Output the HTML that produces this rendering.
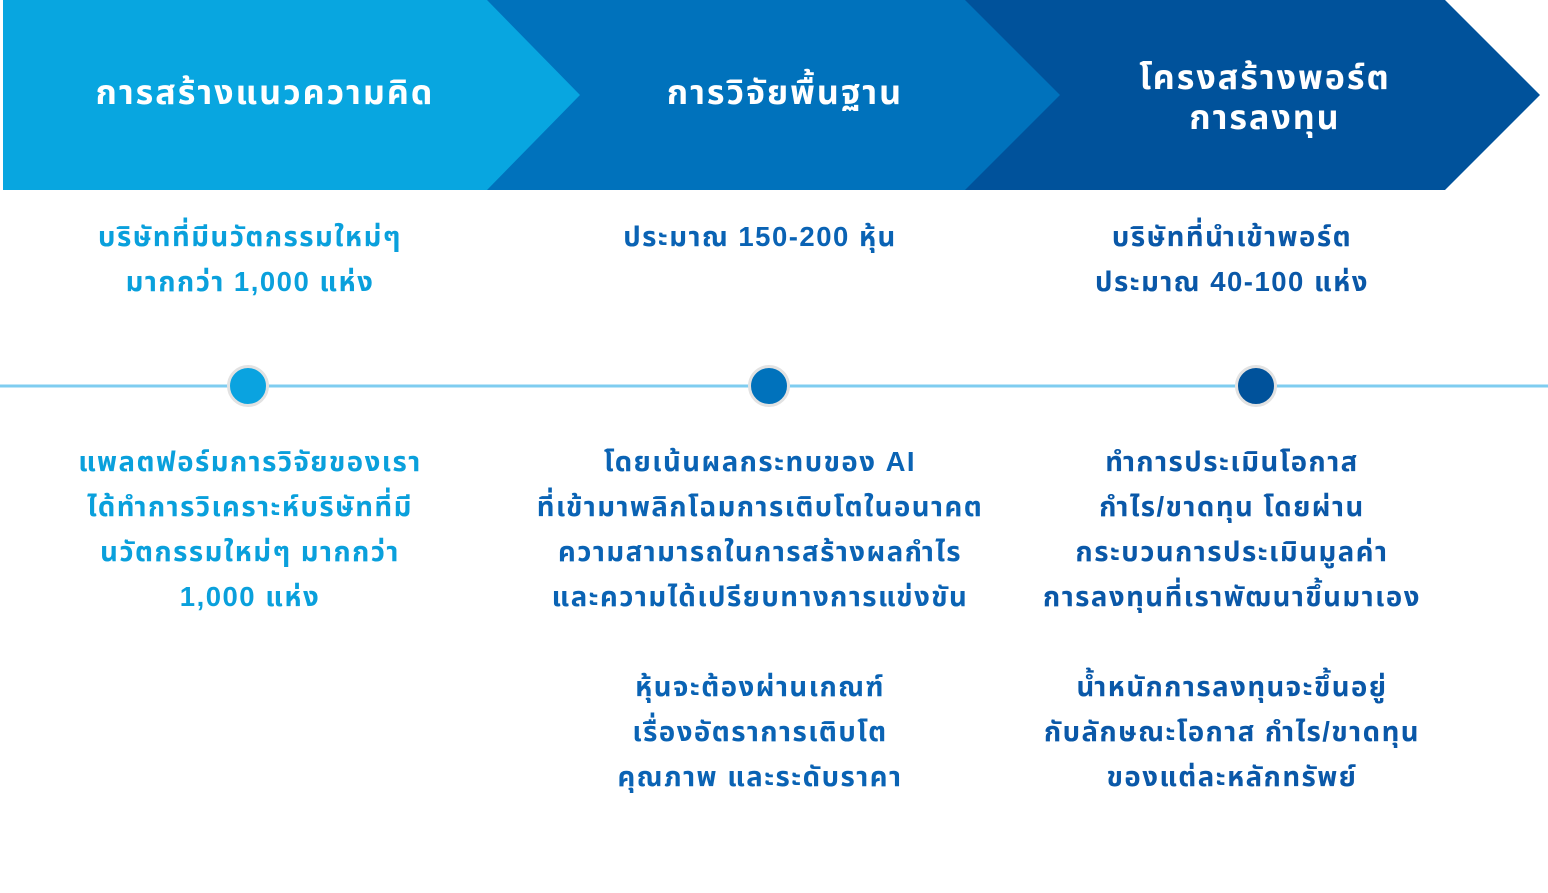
<!DOCTYPE html>
<html><head><meta charset="utf-8"><style>
html,body{margin:0;padding:0;background:#fff;width:1548px;height:893px;overflow:hidden;position:relative;font-family:"Liberation Sans","Noto Sans Thai","Loma","Garuda",sans-serif;font-weight:bold}
.t{position:absolute;text-align:center;font-size:27.5px;line-height:45px;white-space:nowrap;letter-spacing:1.5px}
.h{position:absolute;text-align:center;color:#fff;font-size:34px;line-height:40px;white-space:nowrap;letter-spacing:2px}
.c1{color:#0aa0dc}.c2{color:#0a63b4}.c3{color:#0a58a8}
.dot{position:absolute;width:36px;height:36px;border-radius:50%;border:3px solid #e2e2e2;top:365px}
</style></head><body>
<svg width="1548" height="893" style="position:absolute;left:0;top:0">
<polygon points="965,0 1445,0 1540,95 1445,190 965,190" fill="#00529b"/>
<polygon points="487,0 965,0 1060,95 965,190 487,190" fill="#0072bc"/>
<polygon points="3,0 487,0 580,95 487,190 3,190" fill="#08a6e0"/>
<line x1="0" y1="386" x2="1548" y2="386" stroke="#7fcdf0" stroke-width="3"/>
</svg>
<div class="h" style="left:50px;width:430px;top:73px">การสร้างแนวความคิด</div>
<div class="h" style="left:560px;width:450px;top:73px">การวิจัยพื้นฐาน</div>
<div class="h" style="left:1040px;width:450px;top:58px">โครงสร้างพอร์ต<br>การลงทุน</div>
<div class="dot" style="left:227px;background:#0aa3e0"></div>
<div class="dot" style="left:748px;background:#0072bc"></div>
<div class="dot" style="left:1235px;background:#00529b"></div>
<div class="t c1" style="left:0;width:500px;top:214px">บริษัทที่มีนวัตกรรมใหม่ๆ<br>มากกว่า 1,000 แห่ง</div>
<div class="t c2" style="left:510px;width:500px;top:214px">ประมาณ 150-200 หุ้น</div>
<div class="t c3" style="left:982px;width:500px;top:214px">บริษัทที่นำเข้าพอร์ต<br>ประมาณ 40-100 แห่ง</div>
<div class="t c1" style="left:0;width:500px;top:439px">แพลตฟอร์มการวิจัยของเรา<br>ได้ทำการวิเคราะห์บริษัทที่มี<br>นวัตกรรมใหม่ๆ มากกว่า<br>1,000 แห่ง</div>
<div class="t c2" style="left:510px;width:500px;top:439px">โดยเน้นผลกระทบของ AI<br>ที่เข้ามาพลิกโฉมการเติบโตในอนาคต<br>ความสามารถในการสร้างผลกำไร<br>และความได้เปรียบทางการแข่งขัน<br><br>หุ้นจะต้องผ่านเกณฑ์<br>เรื่องอัตราการเติบโต<br>คุณภาพ และระดับราคา</div>
<div class="t c3" style="left:982px;width:500px;top:439px">ทำการประเมินโอกาส<br>กำไร/ขาดทุน โดยผ่าน<br>กระบวนการประเมินมูลค่า<br>การลงทุนที่เราพัฒนาขึ้นมาเอง<br><br>น้ำหนักการลงทุนจะขึ้นอยู่<br>กับลักษณะโอกาส กำไร/ขาดทุน<br>ของแต่ละหลักทรัพย์</div>
</body></html>
